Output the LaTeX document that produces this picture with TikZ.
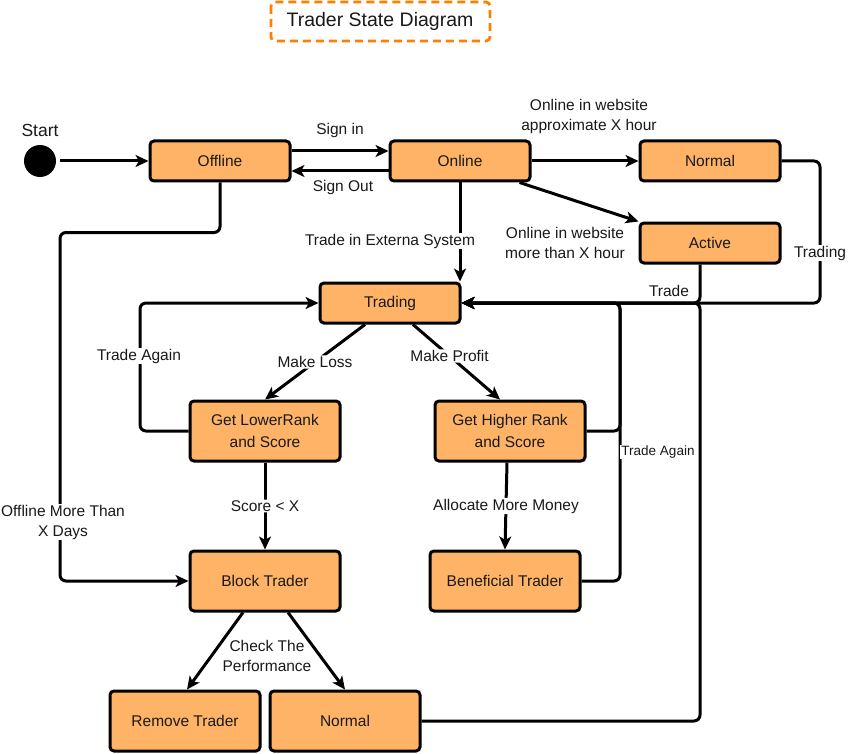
\documentclass[tikz,border=0pt]{standalone}
\usepackage{fontspec}
\setmainfont{Liberation Sans}
\usetikzlibrary{arrows.meta}
\definecolor{statefill}{HTML}{FFB366}
\definecolor{titleorange}{HTML}{FF8000}
\tikzset{
  statebox/.style={draw, rounded corners=4pt, fill=statefill, line width=3pt,
    minimum width=140pt, minimum height=40pt, inner sep=0pt, align=center,
    text=black!90, font=\fontsize{15.5}{22}\selectfont},
  widebox/.style={minimum width=150pt, minimum height=60pt},
  edge/.style={line width=3pt, rounded corners=6pt,
    -{Stealth[length=13pt,width=12pt,inset=3.5pt]}},
  lbl/.style={fill=white, inner sep=1pt, align=center, text=black!90,
    font=\fontsize{15.5}{20}\selectfont},
  smalllbl/.style={lbl, font=\fontsize{13.5}{16}\selectfont},
}
\begin{document}
\begin{tikzpicture}[x=1pt, y=-1pt]
\useasboundingbox (0,0) rectangle (848,754); % adjust bounding box
\draw [titleorange, line width=2.8pt, dash pattern=on 8pt off 5pt, rounded corners=4pt]
  (271,2) rectangle (490,41);
\node (title) at (380,21) [text=black!90, font=\fontsize{19.5}{22}\selectfont] {Trader State Diagram};

\node [circle, fill=black, minimum size=32pt, inner sep=0pt] (start) at (40,161) {};
\node (startlbl) at (40,130) [lbl, font=\fontsize{17.5}{20}\selectfont] {Start};

\node [statebox] (offline) at (220,161) {Offline};
\node [statebox] (online) at (460,161) {Online};
\node [statebox] (normaltop) at (710,161) {Normal};
\node [statebox] (active) at (710,243) {Active};
\node [statebox] (trading) at (390,303) {Trading};
\node [statebox, widebox] (lower) at (265,431) {Get LowerRank\\and Score};
\node [statebox, widebox] (higher) at (510,431) {Get Higher Rank\\and Score};
\node [statebox, widebox] (block) at (265,581) {Block Trader};
\node [statebox, widebox] (benef) at (505,581) {Beneficial Trader};
\node [statebox, widebox] (remove) at (185,721) {Remove Trader};
\node [statebox, widebox] (normalbot) at (345,721) {Normal};

\coordinate (offbend) at (60,581);
\coordinate (tradright) at (820,303);
\coordinate (tradmid) at (700,303);
\coordinate (tradagain) at (620,303);
\coordinate (tradleft) at (140,303);

\draw [edge, shorten <=4pt] (start.east) -- (offline.west);
\draw [edge] ([yshift=10pt]offline.east) -- ([yshift=10pt]online.west);
\draw [edge] ([yshift=-10pt]online.west) -- ([yshift=-10pt]offline.east);
\draw [edge] (online.east) -- (normaltop.west);
\draw [edge] ([xshift=-12pt]online.south east) -- (active.north west);
\draw [edge] (online.south) -- (online.south |- trading.north);
\draw [edge] (normaltop.east) -| (tradright) -- (trading.east);
\draw [edge] ([xshift=-10pt]active.south) |- (trading.east);
\draw [edge] (normalbot.east) -| (tradmid) -- (trading.east);
\draw [edge] (higher.east) -| (tradagain) -- (trading.east);
\draw [edge] (benef.east) -| (tradagain) -- (trading.east);
\draw [edge] (lower.west) -| (tradleft) -- (trading.west);
\draw [edge] ([xshift=-25pt]trading.south) -- (lower.north)
  node [lbl, midway] (losslbl) {Make Loss};
\draw [edge] ([xshift=23pt]trading.south) -- ([xshift=-10pt]higher.north)
  node [lbl, pos=0.42] (profitlbl) {Make Profit};
\draw [edge] (lower.south) -- (block.north)
  node [lbl, midway] (scorelbl) {Score < X};
\draw [edge] ([xshift=-3pt]higher.south) -- (benef.north)
  node [lbl, midway] (moneylbl) {Allocate More Money};
\draw [edge] (offline.south) -- ++(0,50) -| (offbend) -- (block.west);
\draw [edge] ([xshift=-22pt]block.south) -- ([xshift=2pt]remove.north);
\draw [edge] ([xshift=23pt]block.south) -- (normalbot.north);

\node (signin) at (340,130) [lbl] {Sign in};
\node (signout) at (343,187) [lbl] {Sign Out};
\node (approxlbl) at (589,116) [lbl] {Online in website\\approximate X hour};
\node (morelbl) at (565,243) [lbl] {Online in website\\more than X hour};
\node (extlbl) at (390,241) [lbl] {Trade in Externa System};
\node (tradinglbl) at (820,253) [lbl] {Trading};
\node (tradelbl) at (669,291) [lbl] {Trade};
\node (againleft) at (139,356) [lbl] {Trade Again};
\node (againright) at (658,452) [smalllbl] {Trade Again};
\node (offdays) at (63,522) [lbl] {Offline More Than\\X Days};
\node (checklbl) at (267,656) [lbl, fill=none] {Check The\\Performance};
\end{tikzpicture}
\end{document}
